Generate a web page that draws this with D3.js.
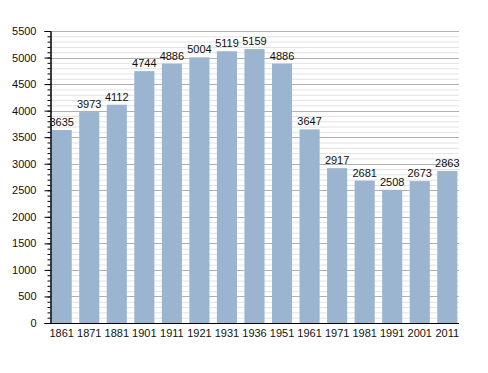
<!DOCTYPE html>
<html>
<head>
<meta charset="utf-8">
<script src="https://cdn.jsdelivr.net/npm/d3@7"></script>
<style>
  body { margin: 0; background: #fff; }
  svg { display: block; font-family: "Liberation Sans", Arial, sans-serif; }
</style>
</head>
<body>
<div id="chart"></div>
<script>
// Census years and population
const years = ["1861", "1871", "1881", "1901", "1911", "1921", "1931", "1936", "1951", "1961", "1971", "1981", "1991", "2001", "2011"];
const population = [3635, 3973, 4112, 4744, 4886, 5004, 5119, 5159, 4886, 3647, 2917, 2681, 2508, 2673, 2863];
const yTicks = [0, 500, 1000, 1500, 2000, 2500, 3000, 3500, 4000, 4500, 5000, 5500];

const width = 488, height = 373;
const margin = {top: 31, right: 29, bottom: 50, left: 50};

const svg = d3.select("#chart").append("svg")
    .attr("width", width)
    .attr("height", height);

const x = d3.scaleBand()
    .domain(years)
    .range([margin.left, width - margin.right])
    .paddingInner(0.27)
    .paddingOuter(0.06);

const y = d3.scaleLinear()
    .domain([0, 5500])
    .range([height - margin.bottom, margin.top]);

// minor grid every 100
const minor = d3.range(100, 5501, 100).filter(d => d % 500 !== 0);
svg.append("g")
    .selectAll("line")
    .data(minor)
    .join("line")
    .attr("x1", margin.left)
    .attr("x2", width - margin.right)
    .attr("y1", d => y(d) + 0.5)
    .attr("y2", d => y(d) + 0.5)
    .attr("stroke", "#e2e2e2")
    .attr("stroke-width", 1);

// major grid
svg.append("g")
    .selectAll("line")
    .data(yTicks.slice(1))
    .join("line")
    .attr("x1", margin.left)
    .attr("x2", width - margin.right)
    .attr("y1", d => Math.round(y(d)) + 0.5)
    .attr("y2", d => Math.round(y(d)) + 0.5)
    .attr("stroke", "#b0b0b0")
    .attr("stroke-width", 1);

// bars
svg.append("g")
    .selectAll("rect")
    .data(population)
    .join("rect")
    .attr("x", (d, i) => x(years[i]))
    .attr("y", d => y(d))
    .attr("width", x.bandwidth())
    .attr("height", d => y(0) - y(d))
    .attr("fill", "#9bb4d0");

// value labels
svg.append("g")
    .selectAll("text")
    .data(population)
    .join("text")
    .attr("x", (d, i) => x(years[i]) + x.bandwidth() / 2)
    .attr("y", d => y(d) - 4)
    .attr("text-anchor", "middle")
    .attr("font-size", 11)
    .attr("fill", "#111")
    .text(d => d);

// y axis with minor ticks
const yAxis = svg.append("g")
    .attr("transform", `translate(${margin.left + 0.5},0)`);
yAxis.call(d3.axisLeft(y).tickValues(d3.range(0, 5501, 100)).tickSize(3).tickFormat(""));
yAxis.call(g => g.selectAll(".tick line").attr("stroke", "#000"));
const yMajor = svg.append("g")
    .attr("transform", `translate(${margin.left + 0.5},0)`)
    .call(d3.axisLeft(y).tickValues(yTicks).tickSize(6).tickPadding(8).tickFormat(d3.format("d")));
yMajor.select(".domain").attr("stroke", "#000");
yMajor.selectAll("text").attr("font-size", 11).attr("fill", "#111").attr("font-family", "Liberation Sans, Arial, sans-serif");

// x axis
const xAxis = svg.append("g")
    .attr("transform", `translate(0,${y(0) + 0.5})`)
    .call(d3.axisBottom(x).tickSize(0).tickPadding(6).tickSizeOuter(0));
xAxis.select(".domain").attr("stroke", "#000").attr("d", `M${margin.left},0H${width - margin.right}`);
xAxis.selectAll("text").attr("font-size", 11).attr("fill", "#111").attr("font-family", "Liberation Sans, Arial, sans-serif");
</script>
</body>
</html>
